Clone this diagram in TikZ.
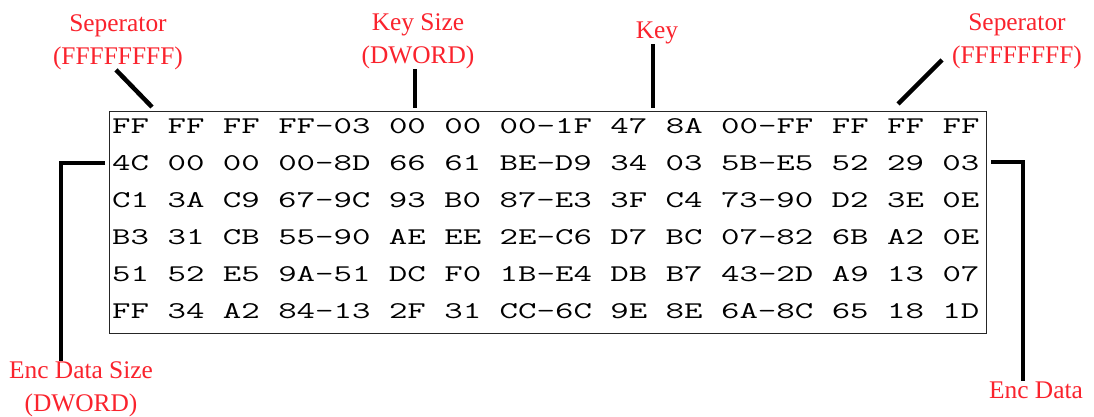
\documentclass[tikz,border=0pt]{standalone}
\usepackage{fontspec}
\setmainfont{Liberation Serif}
\newfontfamily\hexfont[FakeStretch=1.493]{Latin Modern Mono}
\definecolor{lblred}{RGB}{250,35,45}
\begin{document}
\begin{tikzpicture}[x=1pt,y=-1pt,
  lbl/.style={text=lblred, font=\fontsize{25.4}{32.6}\selectfont, align=center, inner sep=0pt, anchor=base},
  hexrow/.style={font=\hexfont\fontsize{24}{37}\selectfont, inner sep=0pt, anchor=base west},
  conn/.style={line width=4.5pt, draw=black},
  frame/.style={draw=black!85, line width=1.3pt}]
\useasboundingbox[fill=white] (0,0) rectangle (1094,416);

% hex dump frame
\node[frame, minimum width=877pt, minimum height=222pt, anchor=north west, inner sep=0pt] (box) at (109,111) {};

\node[hexrow] (r1) at (112,133) {FF FF FF FF-03 00 00 00-1F 47 8A 00-FF FF FF FF};
\node[hexrow] (r2) at (112,170) {4C 00 00 00-8D 66 61 BE-D9 34 03 5B-E5 52 29 03};
\node[hexrow] (r3) at (112,207) {C1 3A C9 67-9C 93 B0 87-E3 3F C4 73-90 D2 3E 0E};
\node[hexrow] (r4) at (112,244) {B3 31 CB 55-90 AE EE 2E-C6 D7 BC 07-82 6B A2 0E};
\node[hexrow] (r5) at (112,281) {51 52 E5 9A-51 DC F0 1B-E4 DB B7 43-2D A9 13 07};
\node[hexrow] (r6) at (112,318) {FF 34 A2 84-13 2F 31 CC-6C 9E 8E 6A-8C 65 18 1D};

% labels (anchor = baseline of the last line)
\node[lbl] (sepL) at (118,64.3) {Seperator\\(FFFFFFFF)};
\node[lbl] (keysize) at (418,63.5) {Key Size\\(DWORD)};
\node[lbl] (key) at (657,38.5) {Key};
\node[lbl] (sepR) at (1017,63.5) {Seperator\\(FFFFFFFF)};
\node[lbl] (encsize) at (81,411) {Enc Data Size\\(DWORD)};
\node[lbl] (encdata) at (1036,398) {Enc Data};

% connector end points
\coordinate (sLend) at (152,107);
\coordinate (ksEnd) at (415,108);
\coordinate (kEnd) at (653,108);
\coordinate (sRstart) at (942,60);
\coordinate (sRend) at (898,104);
\coordinate (eL) at (61,163);
\coordinate (eR) at (1023,162);

% connectors
\draw[conn] ([xshift=-2pt]sepL.south) -- (sLend);
\draw[conn] (keysize.south -| ksEnd) -- (ksEnd);
\draw[conn] (key.south -| kEnd) -- (kEnd);
\draw[conn] (sRstart) -- (sRend);
\draw[conn] ([xshift=-4pt]box.west |- eL) -- (eL) -- (encsize.north -| eL);
\draw[conn] ([xshift=4pt]box.east |- eR) -- (eR) -- (encdata.north -| eR);
\end{tikzpicture}
\end{document}
